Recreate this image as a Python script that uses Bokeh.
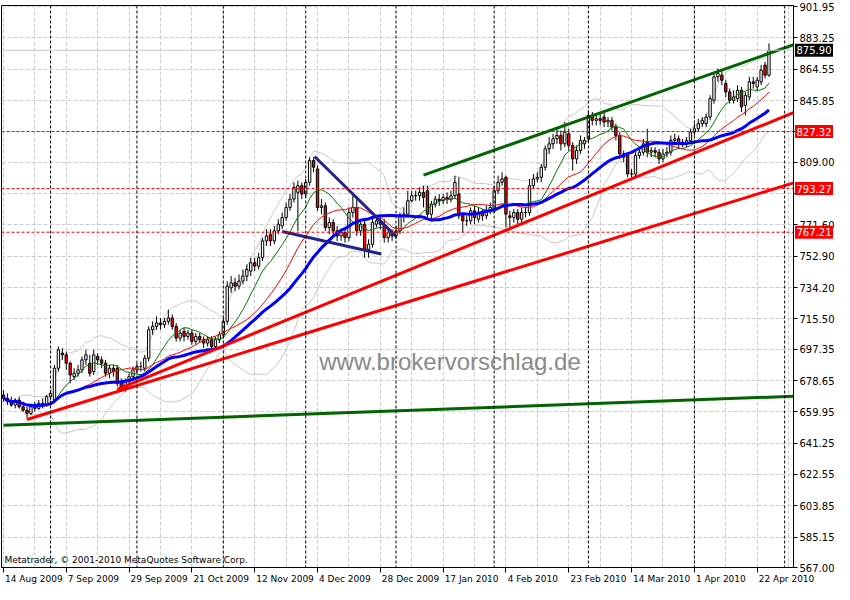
import numpy as np
import pandas as pd
from bokeh.plotting import figure
from bokeh.models import (Range1d, LinearAxis, FixedTicker, Grid, Span, Label,
                          PrintfTickFormatter, ColumnDataSource)
from bokeh.core.properties import value
from bokeh.embed import file_html
from bokeh.resources import INLINE

# ---------------- data (daily OHLC, bar index 0 = 14 Aug 2009) ----------------
opens = [670,668,666,664,667,663,661,659,663,662,
         665,664,669,667,686,695,694,689,681,683,
         685,691,689,684,693,691,689,683,686,686,
         678,674,678,681,685,687,686,692,709,711,
         713,712,714,716,711,704,708,705,707,702,
         705,703,701,703,699,703,706,714,734,737,
         735,738,741,744,749,747,752,762,766,762,
         768,771,776,782,787,791,795,790,797,810,
         805,782,783,770,773,768,765,767,764,779,
         782,768,772,757,760,772,774,772,764,767,
         765,768,777,778,786,789,789,791,792,778,
         784,787,786,788,787,789,790,777,774,774,
         780,775,779,777,780,781,792,797,800,777,
         776,779,775,779,779,795,799,800,806,817,
         820,823,825,820,826,819,811,816,820,823,
         836,834,835,836,833,834,830,825,814,813,
         802,802,813,815,821,815,816,815,811,814,
         815,822,823,820,820,822,827,829,832,832,
         836,846,860,861,856,851,846,847,852,843,
         848,857,854,857,867,861]
highs = [673,671,669,668,669,666,663,664,666,667,
         668,670,673,688,699,698,696,690,686,688,
         693,697,694,697,695,693,691,688,688,688,
         680,680,683,687,689,690,694,711,714,717,
         716,716,721,718,713,709,710,709,709,707,
         707,705,705,705,705,708,716,738,741,740,
         742,745,748,752,752,755,764,769,769,771,
         775,779,785,790,797,798,797,799,812,812,
         807,787,785,776,775,771,769,770,782,789,
         788,775,774,763,775,777,776,775,770,769,
         771,779,782,792,792,792,794,795,795,786,
         789,790,790,791,792,801,800,779,777,782,
         783,782,781,783,785,795,801,803,801,780,
         781,781,782,782,799,802,803,808,819,824,
         826,830,828,833,829,821,819,825,824,840,
         839,838,838,839,836,836,832,827,816,815,
         805,815,818,823,829,818,818,817,817,818,
         825,826,825,823,824,829,832,835,836,838,
         849,862,865,864,858,853,852,855,854,851,
         860,860,860,867,869,880]
lows = [666,664,663,662,662,660,656,658,660,661,
        662,663,667,665,684,691,685,677,679,681,
        683,688,681,682,688,686,681,680,681,675,
        672,672,676,679,683,684,684,690,706,709,
        709,710,712,709,702,702,702,703,700,700,
        701,698,699,697,697,701,704,712,731,732,
        733,736,738,741,744,745,750,759,759,760,
        766,769,774,780,785,768,787,788,795,803,
        780,778,768,766,765,762,762,761,762,776,
        765,765,752,752,758,770,769,761,761,762,
        763,766,773,776,785,786,786,782,776,775,
        782,783,784,784,785,787,775,767,771,772,
        772,773,774,775,778,779,790,795,770,770,
        773,772,772,776,777,793,797,797,804,814,
        817,820,816,818,816,804,808,814,817,821,
        831,831,831,830,830,828,822,811,809,800,
        800,800,811,813,812,812,812,808,809,812,
        813,820,817,818,818,820,825,827,830,830,
        834,844,857,855,848,844,844,845,839,837,
        846,853,852,855,859,860]
closes = [668,666,664,667,663,661,659,663,662,665,
          664,669,671,686,697,694,689,682,683,685,
          691,694,683,694,691,689,683,686,684,677,
          674,678,681,685,687,687,692,709,711,713,
          712,714,716,711,704,707,705,707,702,705,
          703,701,703,699,703,706,714,735,737,735,
          738,741,745,749,747,752,762,765,762,768,
          772,776,782,787,794,795,790,797,810,806,
          782,783,770,773,768,765,767,764,779,782,
          768,772,757,760,773,774,772,764,767,765,
          768,777,778,786,789,789,791,788,778,784,
          787,786,788,787,789,797,777,774,774,780,
          776,779,777,780,782,792,797,799,778,776,
          779,775,779,779,795,799,800,806,817,820,
          823,825,820,827,819,811,816,822,822,837,
          834,835,834,833,834,830,825,814,812,802,
          802,813,815,820,815,816,815,811,814,815,
          822,823,820,821,822,827,829,832,834,836,
          847,860,862,858,851,846,848,852,842,849,
          857,856,858,864,861,875.9]

date_tick_bars = [0, 16, 32, 48, 64, 80, 96, 112, 128, 144, 160, 176, 192]
date_tick_labels = ["14 Aug 2009", "7 Sep 2009", "29 Sep 2009", "21 Oct 2009",
                    "12 Nov 2009", "4 Dec 2009", "28 Dec 2009", "17 Jan 2010",
                    "4 Feb 2010", "23 Feb 2010", "14 Mar 2010", "1 Apr 2010",
                    "22 Apr 2010"]
price_ticks = [567.00, 585.15, 603.85, 622.55, 641.25, 659.95, 678.65, 697.35,
               715.50, 734.20, 752.90, 771.60, 790.30, 809.00, 827.40, 845.85,
               864.55, 883.25, 901.95]
hidden_price_ticks = [790.30, 827.40]
month_start_bars = [12, 34, 56, 77, 100, 125, 149, 176, 199]
grid_bars = list(range(0, 201, 8))

level_lines = [827.32, 793.27, 767.21]
last_price = 875.90

# hand drawn trend lines: (bar indices, prices)
green_long_x, green_long_y = [0, 201.75], [652.0, 669.3]
green_chan_x, green_chan_y = [107, 201.75], [801.3, 879.5]
red_a_x, red_a_y = [29, 201.75], [673.4, 839.1]
red_b_x, red_b_y = [6, 201.75], [655.4, 797.0]
navy_1_x, navy_1_y = [79.25, 100], [812.4, 764.7]
navy_2_x, navy_2_y = [71, 96.25], [767.6, 754.2]

watermark = "www.brokervorschlag.de"
copyright_text = "Metatrader, \u00a9 2001-2010 MetaQuotes Software Corp."

# ---------------- indicators from the closes ----------------
cs = pd.Series(closes, dtype=float)
sma10 = cs.rolling(10, min_periods=1).mean()
sma20 = cs.rolling(20, min_periods=1).mean()
sma30 = cs.rolling(30, min_periods=1).mean()
sd20 = cs.rolling(20, min_periods=5).std(ddof=0)
bb_up = sma20 + 2 * sd20
bb_dn = sma20 - 2 * sd20

idx = list(range(len(closes)))
src = ColumnDataSource(dict(
    i=idx, o=opens, h=highs, l=lows, c=closes,
    top=[max(a, b) for a, b in zip(opens, closes)],
    bot=[min(a, b) for a, b in zip(opens, closes)],
    col=["white" if c >= o else "#ff0000" for o, c in zip(opens, closes)],
))
ind = ColumnDataSource(dict(i=idx, s10=sma10, s20=sma20, s30=sma30, up=bb_up, dn=bb_dn))

# ---------------- figure ----------------
FW, FH = 792, 562
X0, X1 = -0.5, 201.25
p = figure(frame_width=FW, frame_height=FH, x_range=Range1d(X0, X1),
           y_range=Range1d(567.0, 902.6), x_axis_type=None, y_axis_type=None,
           toolbar_location=None, output_backend="svg",
           min_border_left=1, min_border_top=5, min_border_right=0, min_border_bottom=0,
           background_fill_color="white", border_fill_color="white",
           outline_line_color="black", outline_line_width=1)

FONT = "DejaVu Sans"
# right price axis
yax = LinearAxis(ticker=FixedTicker(ticks=price_ticks),
                 formatter=PrintfTickFormatter(format="%.2f"),
                 major_label_overrides={t: "" for t in hidden_price_ticks},
                 major_tick_out=4, major_tick_in=0, minor_tick_line_color=None,
                 axis_line_color="black", major_tick_line_color="black",
                 major_label_standoff=2, major_label_text_font=FONT,
                 major_label_text_font_size="10px", major_label_text_color="black")
p.add_layout(yax, "right")

# bottom axis: tick marks at the date bars
xax_ticks = LinearAxis(ticker=FixedTicker(ticks=date_tick_bars),
                       major_tick_out=5, major_tick_in=0, minor_tick_line_color=None,
                       axis_line_color="black", major_tick_line_color="black",
                       major_label_standoff=0, major_label_text_font_size="0px",
                       major_label_overrides={t: "" for t in date_tick_bars})
p.add_layout(xax_ticks, "below")

# bottom axis labels, left aligned at the tick marks
adv = {"0": .636, "1": .636, "2": .636, "3": .636, "4": .636, "5": .636, "6": .636,
       "7": .636, "8": .636, "9": .636, " ": .318, "A": .684, "D": .770, "F": .575,
       "J": .295, "M": .863, "N": .748, "O": .787, "S": .635, "a": .613, "b": .635,
       "c": .550, "e": .615, "g": .635, "n": .634, "o": .612, "p": .635, "r": .411,
       "t": .392, "u": .634, "v": .592}
XFS = 9
px_per_bar = FW / (X1 - X0)
centres = []
for t, lab in zip(date_tick_bars, date_tick_labels):
    w = sum(adv.get(ch, .6) for ch in lab) * XFS
    centres.append(round(t + (w / 2 + 1.5) / px_per_bar, 3))
xax_labels = LinearAxis(ticker=FixedTicker(ticks=centres),
                        major_label_overrides=dict(zip(centres, date_tick_labels)),
                        major_tick_line_color=None, minor_tick_line_color=None,
                        axis_line_color=None, major_tick_out=0, major_tick_in=0,
                        major_label_standoff=1, major_label_text_font=FONT,
                        major_label_text_font_size=f"{XFS}px",
                        major_label_text_color="black")
p.add_layout(xax_labels, "below")

# grids
p.add_layout(Grid(dimension=0, ticker=FixedTicker(ticks=grid_bars),
                  grid_line_color="#cccccc", grid_line_dash="4 2"))
p.add_layout(Grid(dimension=1, ticker=FixedTicker(ticks=price_ticks),
                  grid_line_color="#cccccc", grid_line_dash="4 2"))

# month separators
for b in month_start_bars:
    p.add_layout(Span(location=b, dimension="height", line_color="black",
                      line_dash="3 2", line_width=1))
# level lines and bid line
for lv in level_lines:
    p.add_layout(Span(location=lv, dimension="width", line_color="#ff0000",
                      line_dash="3 2", line_width=1))
p.add_layout(Span(location=last_price, dimension="width", line_color="#c8c8c8",
                  line_width=1))

# watermark
p.add_layout(Label(x=113.75, y=690.3, text=watermark, text_align="center",
                   text_baseline="middle", text_font="Liberation Sans",
                   text_font_size="24px", text_color="#8a8a8a"))

# bollinger bands
p.line("i", "up", source=ind, line_color="#c8c8c8", line_width=1)
p.line("i", "dn", source=ind, line_color="#c8c8c8", line_width=1)

# candles
p.segment(x0="i", y0="l", x1="i", y1="h", source=src, line_color="black", line_width=1)
p.vbar(x="i", width=0.6, top="top", bottom="bot", source=src, fill_color="col",
       line_color="black", line_width=1)

# moving averages
p.line("i", "s10", source=ind, line_color="#007a00", line_width=1)
p.line("i", "s20", source=ind, line_color="#ff0000", line_width=1)
p.line("i", "s30", source=ind, line_color="#0000ff", line_width=3)

# trend lines
p.line(green_long_x, green_long_y, line_color="#006400", line_width=3)
p.line(green_chan_x, green_chan_y, line_color="#006400", line_width=3)
p.line(red_b_x, red_b_y, line_color="#ff0000", line_width=3)
p.line(red_a_x, red_a_y, line_color="#ff0000", line_width=3)
p.line(navy_1_x, navy_1_y, line_color="#23238e", line_width=3)
p.line(navy_2_x, navy_2_y, line_color="#23238e", line_width=3)

# price boxes on the right scale (drawn at overlay level so they sit on the scale)
box_levels = level_lines + [last_price]
box_colors = ["#ff0000"] * len(level_lines) + ["black"]
box_texts = [f"{v:.2f}" for v in box_levels]
box_src = ColumnDataSource(dict(x=[X1] * len(box_levels),
                                xc=[X1 + 20.5 / px_per_bar] * len(box_levels),
                                y=box_levels, t=box_texts, c=box_colors))
p.rect(x="xc", y="y", width=38, height=13, width_units="screen", height_units="screen",
       fill_color="c", line_color=None, source=box_src, level="overlay")
p.text(x="x", y="y", text="t", x_offset=3, text_baseline="middle", text_align="left",
       text_color="white", text_font=value(FONT), text_font_size="10px",
       source=box_src, level="overlay")

# copyright note
p.add_layout(Label(x=X0, y=567.0, x_offset=3, y_offset=3, text=copyright_text,
                   text_font=FONT, text_font_size="9px", text_color="black",
                   text_baseline="bottom"))

open("out.html", "w").write(file_html(p, INLINE))
